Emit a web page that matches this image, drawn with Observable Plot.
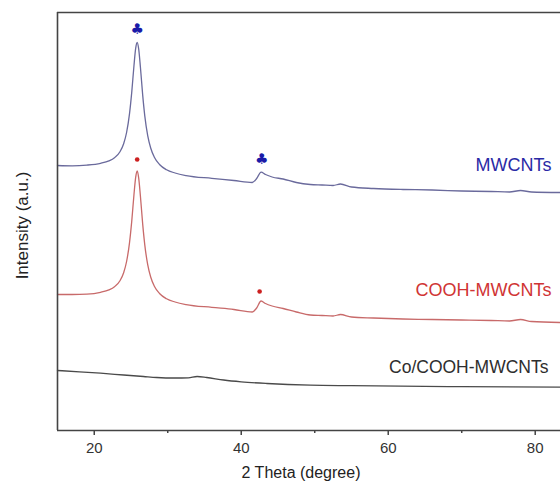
<!DOCTYPE html>
<html>
<head>
<meta charset="utf-8">
<script src="https://cdn.jsdelivr.net/npm/d3@7"></script>
<script src="https://cdn.jsdelivr.net/npm/@observablehq/plot@0.6"></script>
<style>
  html, body { margin: 0; padding: 0; background: #fff; overflow: hidden; }
</style>
</head>
<body>
<div id="chart"></div>
<script>
// 2θ grid for the two CNT patterns
const theta = [15,17,19,20.85,22,22.8,23.5,24.0,24.4,24.8,25.1,25.4,25.64,25.84,26.04,26.28,26.58,26.88,27.28,27.68,28.18,28.88,29.84,31,32.5,36,39,41.5,42.1,42.7,43.3,44.2,45.7,47.5,49.4,51,52.5,53.5,55,58,62,66,70,74,76.5,78,79.5,83.5];
// offset intensities (a.u.)
const mwcnts = [265,264.7,265.4,267.2,269.6,273.1,278.7,286.8,298,316.9,338.1,364.5,382.3,388,381.9,363.5,336.4,314.4,294.6,282.5,273.2,266,260.7,257.5,254.9,252.1,250,248,252,258.3,256,253.5,251.5,248,246,245.5,245,246.5,243.5,242,241,240.5,239.5,239,238.5,240,238.5,238];
const coohMwcnts = [136,136,136.4,138.2,140.6,144.1,149.7,157.8,169,187.9,209.1,235.5,253.3,259.5,252.9,234.5,207.4,185.4,165.6,153.5,144.2,137,131.7,128.5,125.9,123.1,121,118.5,122.5,129.5,127,124.5,122,118.5,115.5,115,114.5,116,113.5,112.5,111.5,111,110.5,110,109.5,111,109,108];
// Co/COOH-MWCNTs pattern
const thetaCo = [15,18,20.85,24,26.7,28.5,31,32.8,34,35.3,37.6,40,43.5,49.4,55,61.7,70,83.5];
const coCooh = [60,58.7,57.3,55.5,54,53,52.5,52.7,54,53,50.5,48.7,47,45.3,44.8,44.3,43.8,43.3];

const seriesNames = ["MWCNTs", "COOH-MWCNTs", "Co/COOH-MWCNTs"];
const lineColors = ["#6a6a9c", "#c86a6a", "#4a4a4a"];
const labelColors = ["#2a2aa6", "#d03434", "#2e2e2e"];
const labelSizes = [18, 18, 17.5];
const labelTheta = [82.2, 82.2, 81.8];
const labelLevel = [265, 140, 63];

// peak markers
const clubTheta = [25.84, 42.8];
const clubLevel = [401, 271];
const dotTheta = [25.84, 42.5];
const dotLevel = [271, 139];

const majorTicks = [20, 40, 60, 80];
const minorTicks = [30, 50, 70];
const xLabel = "2 Theta (degree)";
const yLabel = "Intensity (a.u.)";

const rows = [];
theta.forEach((t, i) => rows.push({theta: t, value: mwcnts[i], series: seriesNames[0]}));
theta.forEach((t, i) => rows.push({theta: t, value: coohMwcnts[i], series: seriesNames[1]}));
thetaCo.forEach((t, i) => rows.push({theta: t, value: coCooh[i], series: seriesNames[2]}));

const labels = seriesNames.map((s, i) => ({s, x: labelTheta[i], y: labelLevel[i], c: labelColors[i], f: labelSizes[i]}));
const clubs = clubTheta.map((t, i) => ({x: t, y: clubLevel[i]}));
const dots = dotTheta.map((t, i) => ({x: t, y: dotLevel[i]}));

const chart = Plot.plot({
  width: 560,
  height: 485,
  marginLeft: 57,
  marginRight: 0,
  marginTop: 12,
  marginBottom: 55,
  style: {fontFamily: "'Liberation Sans', Arial, sans-serif", background: "#fff"},
  x: {domain: [15, 83.44]},
  y: {domain: [0, 418], axis: null},
  color: {domain: seriesNames, range: lineColors},
  marks: [
    Plot.line(rows, {x: "theta", y: "value", z: "series", stroke: "series", strokeWidth: 1.3, curve: "monotone-x"}),
    Plot.text(clubs, {x: "x", y: "y", text: () => "\u2663", fill: "#1a1aa8", fontSize: 15, fontFamily: "DejaVu Sans"}),
    Plot.dot(dots, {x: "x", y: "y", r: 2.3, fill: "#cc2020", stroke: null}),
    ...labels.map(d => Plot.text([d], {x: "x", y: "y", text: "s", fill: d.c, textAnchor: "end", fontSize: d.f})),
    Plot.ruleY([0, 418], {stroke: "#444", strokeWidth: 1.6}),
    Plot.ruleX([15], {stroke: "#444", strokeWidth: 1.6}),
    Plot.axisX(majorTicks, {tickSize: 5, tickPadding: 7, fontSize: 15, label: null, stroke: "#444", strokeWidth: 1.5, fill: "#333"}),
    Plot.axisX(minorTicks, {tickSize: 3, label: null, tickFormat: () => "", stroke: "#444", strokeWidth: 1.5}),
    Plot.text([xLabel], {frameAnchor: "bottom", dy: 47, dx: -8, fontSize: 16, fill: "#222"}),
    Plot.text([yLabel], {frameAnchor: "left", textAnchor: "middle", dx: -35, dy: 4, rotate: -90, fontSize: 17, fill: "#222"})
  ]
});
document.getElementById("chart").appendChild(chart);
</script>
</body>
</html>
